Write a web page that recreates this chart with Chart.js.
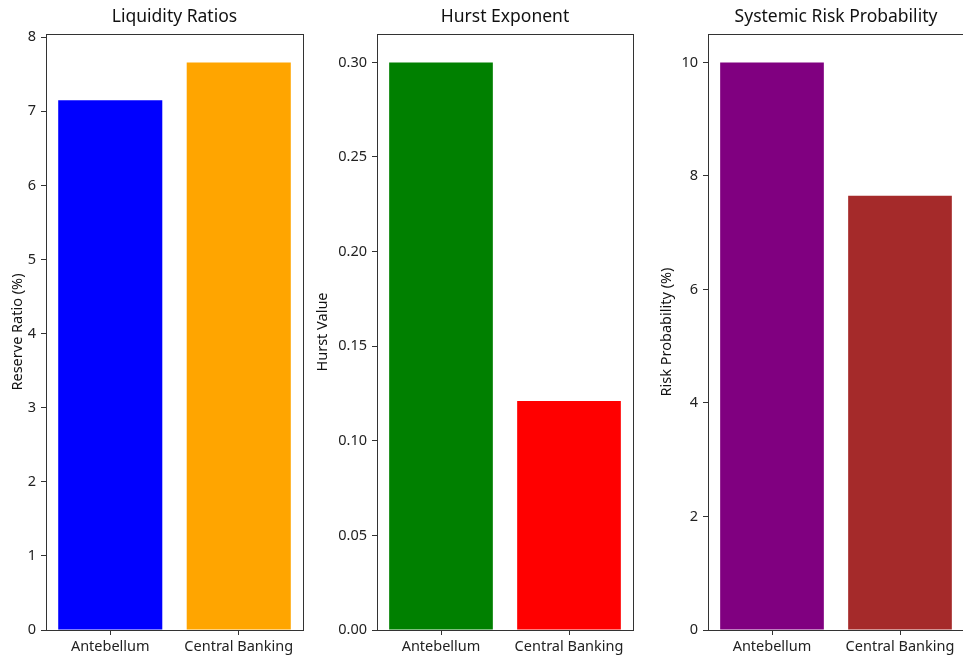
<!DOCTYPE html>
<html>
<head>
<meta charset="utf-8">
<script src="https://cdn.jsdelivr.net/npm/chart.js@4.4.0/dist/chart.umd.min.js"></script>
<style>
    html, body { margin: 0; padding: 0; background: #fff; overflow: hidden; }
    #wrap { position: relative; width: 963px; height: 658px; overflow: hidden; }
    canvas { position: absolute; top: 0; }
</style>
</head>
<body>
<div id="wrap">
    <canvas id="c1" width="310" height="658" style="left:0px"></canvas>
    <canvas id="c2" width="340" height="658" style="left:310px"></canvas>
    <canvas id="c3" width="320" height="658" style="left:650px"></canvas>
</div>
<script>
const categories = ["Antebellum", "Central Banking"];
const reserveRatios = [7.15, 7.66];
const hurstValues = [0.30, 0.121];
const riskProbabilities = [10.0, 7.65];

const FONT = "'Noto Sans', 'DejaVu Sans', sans-serif";

// 축 사각형 테두리
const framePlugin = {
    id: "frame",
    afterDraw(chart) {
        const { ctx, chartArea: a } = chart;
        ctx.save();
        ctx.strokeStyle = "#333";
        ctx.lineWidth = 1;
        ctx.strokeRect(Math.round(a.left) + 0.5, Math.round(a.top) + 0.5,
            Math.round(a.right - a.left), Math.round(a.bottom - a.top));
        ctx.restore();
    }
};

function makeChart(id, cfg) {
    const canvas = document.getElementById(id);
    return new Chart(canvas.getContext("2d"), {
        type: "bar",
        data: {
            labels: categories,
            datasets: [{
                data: cfg.values,
                backgroundColor: cfg.colors,
                borderWidth: 0,
                barPercentage: 0.81,
                categoryPercentage: 1.0
            }]
        },
        options: {
            responsive: false,
            animation: false,
            layout: { padding: { left: 0, right: cfg.padRight, top: 0, bottom: 0 } },
            plugins: {
                legend: { display: false },
                tooltip: { enabled: false },
                title: {
                    display: true,
                    fullSize: false,
                    text: cfg.title,
                    color: "#111",
                    font: { family: FONT, size: 17.5, weight: "normal" },
                    padding: { top: 7, bottom: 6 }
                }
            },
            scales: {
                x: {
                    grid: { display: true, drawOnChartArea: false, drawTicks: true, tickLength: 5, color: "#333", offset: false },
                    border: { display: false },
                    ticks: { color: "#222", font: { family: FONT, size: 14.5 }, padding: 3, maxRotation: 0 },
                    afterFit(scale) { scale.height = 28; }
                },
                y: {
                    min: 0,
                    max: Math.max(...cfg.values) * 1.05,
                    grid: { display: true, drawOnChartArea: false, drawTicks: true, tickLength: 5, color: "#333" },
                    border: { display: false },
                    ticks: {
                        stepSize: cfg.step,
                        includeBounds: false,
                        color: "#222",
                        font: { family: FONT, size: 14.5 },
                        padding: 5,
                        callback: (v) => v.toFixed(cfg.decimals)
                    },
                    title: {
                        display: true,
                        text: cfg.yLabel,
                        color: "#111",
                        font: { family: FONT, size: 14.5 },
                        padding: { top: cfg.titlePad, bottom: 0 }
                    },
                    afterFit(scale) { scale.width = cfg.axisWidth; }
                }
            }
        },
        plugins: [framePlugin]
    });
}

makeChart("c1", {
    title: "Liquidity Ratios",
    yLabel: "Reserve Ratio (%)",
    values: reserveRatios,
    colors: ["#0000ff", "#ffa500"],
    step: 1, decimals: 0,
    axisWidth: 46, padRight: 7, titlePad: 9.6
});

makeChart("c2", {
    title: "Hurst Exponent",
    yLabel: "Hurst Value",
    values: hurstValues,
    colors: ["#008000", "#ff0000"],
    step: 0.05, decimals: 2,
    axisWidth: 67, padRight: 17, titlePad: 4.6
});

makeChart("c3", {
    title: "Systemic Risk Probability",
    yLabel: "Risk Probability (%)",
    values: riskProbabilities,
    colors: ["#800080", "#a52a2a"],
    step: 2, decimals: 0,
    axisWidth: 58, padRight: 6, titlePad: 8.3
});
</script>
</body>
</html>
